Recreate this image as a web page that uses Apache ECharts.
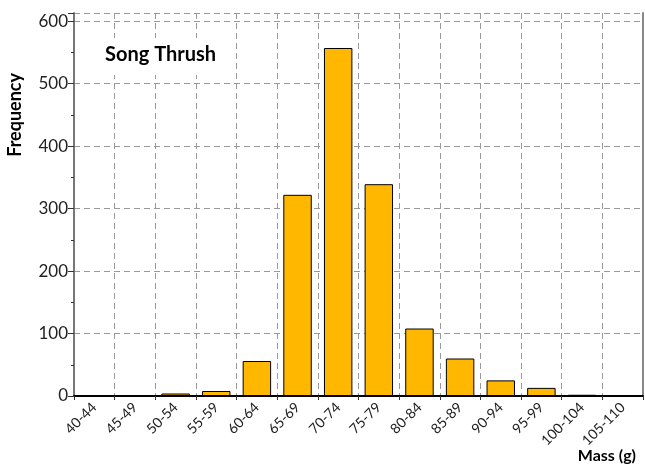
<!DOCTYPE html>
<html>
<head>
<meta charset="utf-8">
<script src="https://cdn.jsdelivr.net/npm/echarts@6/dist/echarts.min.js"></script>
<style>
html, body { margin: 0; padding: 0; background: #fff; }
#chart { width: 645px; height: 468px; }
</style>
</head>
<body>
<div id="chart"></div>
<script>
// mass classes (g) and number of birds in each
var massClasses = ['40-44', '45-49', '50-54', '55-59', '60-64', '65-69', '70-74',
  '75-79', '80-84', '85-89', '90-94', '95-99', '100-104', '105-110'];
var frequency = [1, 1, 4, 8, 56, 322, 557, 339, 108, 60, 25, 13, 2, 1];
var yTicks = [0, 100, 200, 300, 400, 500, 600];

var font = 'Lato';
var chart = echarts.init(document.getElementById('chart'));

var option = {
  animation: false,
  textStyle: { fontFamily: font },
  title: [
    {
      text: 'Song Thrush',
      left: 92, top: 38,
      backgroundColor: '#fff',
      padding: [7, 12, 10, 13],
      textStyle: { fontFamily: font, fontSize: 20, fontWeight: 'bold', color: '#000' }
    },
    {
      text: 'Mass (g)',
      right: 4, bottom: -1,
      textStyle: { fontFamily: font, fontSize: 16, fontWeight: 'bold', color: '#000' }
    }
  ],
  graphic: [{
    type: 'text',
    left: 6, top: 73,
    rotation: Math.PI / 2,
    style: { text: 'Frequency', font: 'bold 18px ' + font, fill: '#000' }
  }],
  grid: { left: 74, right: 2, top: 13, bottom: 72, containLabel: false },
  xAxis: [
    {
      type: 'category',
      data: massClasses,
      axisLine: { lineStyle: { color: '#000', width: 2 } },
      axisTick: { show: true, alignWithLabel: false, length: 4, lineStyle: { color: '#333' } },
      axisLabel: { rotate: 45, fontSize: 14, color: '#222', margin: 9, interval: 0 },
      splitLine: { show: true, interval: 0, lineStyle: { color: '#999', type: [6, 4] } }
    },
    {
      type: 'category',
      position: 'top',
      data: massClasses,
      axisLine: { lineStyle: { color: '#000', width: 1 } },
      axisTick: { show: false },
      axisLabel: { show: false }
    }
  ],
  yAxis: [
    {
      type: 'value',
      min: 0, max: 613, interval: 100,
      axisLine: { show: true, lineStyle: { color: '#777', width: 2 } },
      axisTick: { show: true, length: 6, lineStyle: { color: '#333' } },
      minorTick: { show: true, splitNumber: 2, length: 3, lineStyle: { color: '#333' } },
      axisLabel: {
        fontSize: 17, color: '#222', margin: 6, showMaxLabel: false,
        formatter: function (v) { return yTicks.indexOf(v) >= 0 ? v : ''; }
      },
      splitLine: { show: true, lineStyle: { color: '#999', type: [6, 4] } }
    },
    {
      type: 'value',
      position: 'right',
      min: 0, max: 613,
      axisLine: { show: true, lineStyle: { color: '#888', width: 2 } },
      axisTick: { show: false },
      axisLabel: { show: false },
      splitLine: { show: false }
    }
  ],
  series: [{
    type: 'bar',
    data: frequency,
    barWidth: '70%',
    itemStyle: { color: '#FFB700', borderColor: '#000', borderWidth: 1 }
  }]
};

chart.setOption(option);
</script>
</body>
</html>
